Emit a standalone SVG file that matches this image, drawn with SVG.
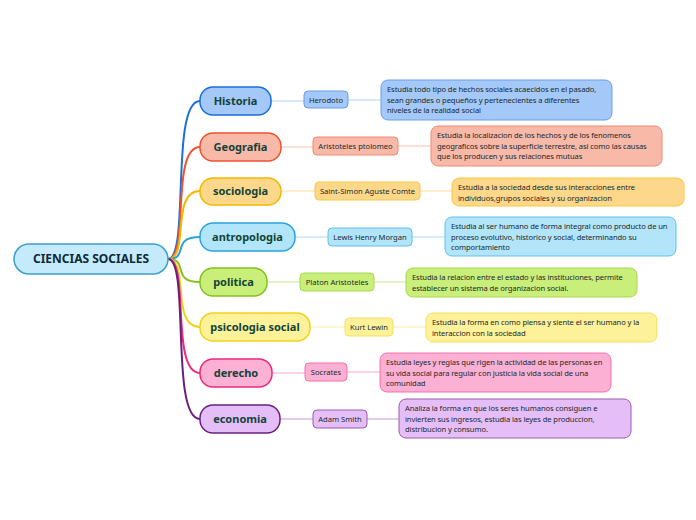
<svg xmlns="http://www.w3.org/2000/svg" width="696" height="520" viewBox="0 0 696 520">
<style>
text{font-family:"Noto Sans","Open Sans",sans-serif;fill:#1a2a2a}
.m{font-size:11px;font-weight:bold;fill:#124438}
.s{font-size:7.6px}
.d{font-size:7.6px;letter-spacing:-0.1px}
.c{fill:none;stroke-width:2}
.t{fill:none;stroke-width:1.2;opacity:.6}
</style>
<rect width="696" height="520" fill="#fff"/>
<g id="connectors">
<path class="c" stroke="#1a6fdc" d="M168,259 C190,259 170,101 200,101"/>
<path class="c" stroke="#f0522e" d="M168,259 C190,259 170,147 200,147"/>
<path class="c" stroke="#f5b800" d="M168,259 C190,259 170,191 200,191"/>
<path class="c" stroke="#2aa4e0" d="M168,259 C190,259 170,237 200,237"/>
<path class="c" stroke="#86c01c" d="M168,259 C190,259 170,282 200,282"/>
<path class="c" stroke="#eed31a" d="M168,259 C190,259 170,327 200,327"/>
<path class="c" stroke="#f0287a" d="M168,259 C190,259 170,373 200,373"/>
<path class="c" stroke="#6a2080" d="M168,259 C190,259 170,419 200,419"/>
<path class="t" stroke="#7fb0f0" d="M271,101H304M348,100H381"/>
<path class="t" stroke="#f59a80" d="M281,147H313M398,146H431"/>
<path class="t" stroke="#f8cc55" d="M281,191H315M420,191H452"/>
<path class="t" stroke="#70c8f0" d="M295,237H328M412,237H445"/>
<path class="t" stroke="#a8d850" d="M267,282H300M374,282H406"/>
<path class="t" stroke="#f5e060" d="M310,327H345M393,327H426"/>
<path class="t" stroke="#f570a8" d="M272,373H305M347,372H380"/>
<path class="t" stroke="#9a5ab0" d="M280,419H313M367,419H399"/>
</g>
<g id="central"><rect x="14" y="244" width="154" height="30" rx="15" fill="#c5eafb" stroke="#3aa0d0" stroke-width="1.5"/><text x="91" y="263" text-anchor="middle" font-size="12" font-weight="bold" style="fill:#0d2a3a">CIENCIAS SOCIALES</text></g>
<g id="historia"><rect x="200" y="87" width="71" height="28" rx="13" fill="#a4c8f8" stroke="#1a6fdc" stroke-width="1.5"/><text class="m" x="235.5" y="105" text-anchor="middle">Historia</text>
<rect x="304" y="91" width="44" height="17" rx="4" fill="#a4c8f8" stroke="#6a9fe8"/><text class="s" x="326" y="102.5" text-anchor="middle">Herodoto</text>
<rect x="381" y="80" width="231" height="40" rx="7" fill="#a4c8f8" stroke="#6a9fe8"/><text class="d" x="387" y="92">Estudia todo tipo de hechos sociales acaecidos en el pasado,<tspan x="387" dy="10.5">sean grandes o pequeños y pertenecientes a diferentes</tspan><tspan x="387" dy="10.5">niveles de la realidad social</tspan></text></g>
<g id="geografia"><rect x="200" y="133" width="81" height="28" rx="13" fill="#f8b9a8" stroke="#f0522e" stroke-width="1.5"/><text class="m" x="240.5" y="151" text-anchor="middle">Geografia</text>
<rect x="313" y="137" width="85" height="18" rx="4" fill="#f8b9a8" stroke="#f08a70"/><text class="s" x="355.5" y="149" text-anchor="middle">Aristoteles ptolomeo</text>
<rect x="431" y="126" width="231" height="40" rx="7" fill="#f8b9a8" stroke="#f08a70"/><text class="d" x="437" y="138">Estudia la localizacion de los hechos y de los fenomenos<tspan x="437" dy="10.5">geograficos sobre la superficie terrestre, asi como las causas</tspan><tspan x="437" dy="10.5">que los producen y sus relaciones mutuas</tspan></text></g>
<g id="sociologia"><rect x="200" y="178" width="81" height="27" rx="13" fill="#fdd88a" stroke="#f5b800" stroke-width="1.5"/><text class="m" x="240.5" y="195" text-anchor="middle">sociologia</text>
<rect x="315" y="182" width="105" height="18" rx="4" fill="#fdd88a" stroke="#f8c840"/><text class="s" x="367.5" y="194" text-anchor="middle">Saint-Simon Aguste Comte</text>
<rect x="452" y="178" width="232" height="28" rx="7" fill="#fdd88a" stroke="#f8c840"/><text class="d" x="458" y="190">Estudia a la sociedad desde sus interacciones entre<tspan x="458" dy="10.5">individuos,grupos sociales y su organizacion</tspan></text></g>
<g id="antropologia"><rect x="200" y="223" width="95" height="28" rx="13" fill="#b2e4fa" stroke="#2aa4e0" stroke-width="1.5"/><text class="m" x="247.5" y="241" text-anchor="middle">antropologia</text>
<rect x="328" y="228" width="84" height="18" rx="4" fill="#b2e4fa" stroke="#60c0ec"/><text class="s" x="370" y="240" text-anchor="middle">Lewis Henry Morgan</text>
<rect x="445" y="217" width="231" height="39" rx="7" fill="#b2e4fa" stroke="#60c0ec"/><text class="d" x="451" y="229">Estudia al ser humano de forma integral como producto de un<tspan x="451" dy="10.5">proceso evolutivo, historico y social, determinando su</tspan><tspan x="451" dy="10.5">comportamiento</tspan></text></g>
<g id="politica"><rect x="200" y="268" width="67" height="28" rx="13" fill="#c9ef7a" stroke="#86c01c" stroke-width="1.5"/><text class="m" x="233.5" y="286" text-anchor="middle">politica</text>
<rect x="300" y="273" width="74" height="18" rx="4" fill="#c9ef7a" stroke="#a8d850"/><text class="s" x="337" y="285" text-anchor="middle">Platon Aristoteles</text>
<rect x="406" y="268" width="231" height="29" rx="7" fill="#c9ef7a" stroke="#a8d850"/><text class="d" x="412" y="280">Estudia la relacion entre el estado y las instituciones, permite<tspan x="412" dy="10.5">establecer un sistema de organizacion social.</tspan></text></g>
<g id="psicologia"><rect x="200" y="313" width="110" height="28" rx="13" fill="#fdf19a" stroke="#eed31a" stroke-width="1.5"/><text class="m" x="255" y="331" text-anchor="middle">psicologia social</text>
<rect x="345" y="318" width="48" height="18" rx="4" fill="#fdf19a" stroke="#f5e060"/><text class="s" x="369" y="330" text-anchor="middle">Kurt  Lewin</text>
<rect x="426" y="313" width="231" height="29" rx="7" fill="#fdf19a" stroke="#f5e060"/><text class="d" x="432" y="325">Estudia la forma en como piensa y siente el ser humano y la<tspan x="432" dy="10.5">interaccion con la sociedad</tspan></text></g>
<g id="derecho"><rect x="200" y="359" width="72" height="28" rx="13" fill="#fcb0d3" stroke="#f0287a" stroke-width="1.5"/><text class="m" x="236" y="377" text-anchor="middle">derecho</text>
<rect x="305" y="363" width="42" height="18" rx="4" fill="#fcb0d3" stroke="#f570a8"/><text class="s" x="326" y="375" text-anchor="middle">Socrates</text>
<rect x="380" y="353" width="231" height="39" rx="7" fill="#fcb0d3" stroke="#f570a8"/><text class="d" x="386" y="365">Estudia leyes y reglas que rigen la actividad de las personas en<tspan x="386" dy="10.5">su vida social para regular con justicia la vida social de una</tspan><tspan x="386" dy="10.5">comunidad</tspan></text></g>
<g id="economia"><rect x="200" y="405" width="80" height="28" rx="13" fill="#e6bef7" stroke="#6a2080" stroke-width="1.5"/><text class="m" x="240" y="423" text-anchor="middle">economia</text>
<rect x="313" y="410" width="54" height="18" rx="4" fill="#e6bef7" stroke="#9a5ab0"/><text class="s" x="340" y="422" text-anchor="middle">Adam Smith</text>
<rect x="399" y="399" width="232" height="39" rx="7" fill="#e6bef7" stroke="#9a5ab0"/><text class="d" x="405" y="411">Analiza la forma en que los seres humanos consiguen e<tspan x="405" dy="10.5">invierten sus ingresos, estudia las leyes de produccion,</tspan><tspan x="405" dy="10.5">distribucion y consumo.</tspan></text></g>
</svg>
